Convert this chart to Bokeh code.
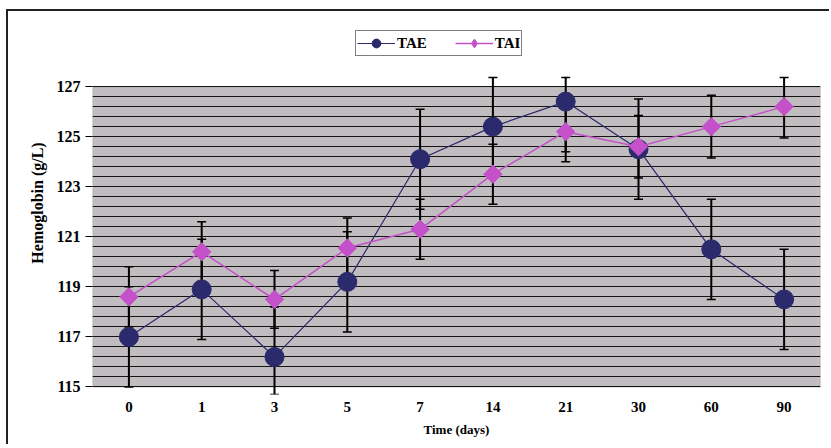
import numpy as np
from bokeh.plotting import figure
from bokeh.models import (ColumnDataSource, FactorRange, Range1d, FixedTicker,
                          BoxAnnotation, Whisker, TeeHead, Legend, LegendItem)
from bokeh.embed import file_html
from bokeh.resources import INLINE

# ---- data ----
days = ["0", "1", "3", "5", "7", "14", "21", "30", "60", "90"]
tae = [117.0, 118.9, 116.2, 119.2, 124.1, 125.4, 126.4, 124.5, 120.5, 118.5]
tae_err = [2.0, 2.0, 2.0, 2.0, 2.0, 2.0, 2.0, 2.0, 2.0, 2.0]
tai = [118.6, 120.4, 118.5, 120.55, 121.3, 123.5, 125.2, 124.6, 125.4, 126.2]
tai_err = [1.2, 1.2, 1.15, 1.2, 1.2, 1.2, 1.2, 1.25, 1.25, 1.25]
y_ticks = [115, 117, 119, 121, 123, 125, 127]

TAE_COLOR = "#2B2A6C"
TAI_COLOR = "#C451C9"
SERIF = "Liberation Serif"
BAR_CLIP = (114.7, 127.36)   # error bars are cut a little outside the plot area

def clip(v):
    return min(max(v, BAR_CLIP[0]), BAR_CLIP[1])

src = ColumnDataSource(dict(
    day=days,
    tae=tae,
    tae_lo=[clip(v - e) for v, e in zip(tae, tae_err)],
    tae_hi=[clip(v + e) for v, e in zip(tae, tae_err)],
    tai=tai,
    tai_lo=[clip(v - e) for v, e in zip(tai, tai_err)],
    tai_hi=[clip(v + e) for v, e in zip(tai, tai_err)],
))

W, H = 823, 435
p = figure(width=W, height=H, x_range=FactorRange(*days),
           y_range=Range1d(114.7, 130.0),
           output_backend="svg", toolbar_location=None,
           min_border_left=84, min_border_right=11,
           min_border_top=0, min_border_bottom=52)
p.styles = {"margin-left": "6px", "margin-top": "9px",
            "border-left": "2px solid #222222", "border-top": "2px solid #222222"}
p.background_fill_color = "white"
p.border_fill_color = "white"
p.outline_line_color = None

# plot area (gray box 115..127)
box = BoxAnnotation(bottom=y_ticks[0], top=y_ticks[-1], fill_color="#C0BCC0",
                    fill_alpha=1.0, line_color="#4A4A4A", line_width=1.2,
                    level="image")
p.add_layout(box)

# grid lines
p.xgrid.grid_line_color = None
p.ygrid.ticker = FixedTicker(ticks=list(np.round(np.arange(y_ticks[0], y_ticks[-1] + 0.01, 0.4), 2)))
p.ygrid.grid_line_color = "#151515"
p.ygrid.grid_line_width = 1.1
p.ygrid.grid_line_alpha = 1.0

# axes
p.yaxis.ticker = FixedTicker(ticks=y_ticks)
p.yaxis.axis_line_color = None
p.yaxis.major_tick_in = 0
p.yaxis.major_tick_out = 7
p.yaxis.major_tick_line_color = "black"
p.yaxis.major_tick_line_width = 1.2
p.yaxis.minor_tick_line_color = None
p.yaxis.major_label_standoff = 5
p.yaxis.major_label_text_font = SERIF
p.yaxis.major_label_text_font_style = "bold"
p.yaxis.major_label_text_font_size = "16px"
p.yaxis.major_label_text_color = "black"
p.yaxis.axis_label = "Hemoglobin (g/L)"
p.yaxis.axis_label_text_font = SERIF
p.yaxis.axis_label_text_font_style = "bold"
p.yaxis.axis_label_text_font_size = "16px"
p.yaxis.axis_label_text_color = "black"
p.yaxis.axis_label_standoff = 8

p.xaxis.axis_line_color = None
p.xaxis.major_tick_line_color = None
p.xaxis.minor_tick_line_color = None
p.xaxis.major_label_standoff = 1
p.xaxis.major_label_text_font = SERIF
p.xaxis.major_label_text_font_style = "bold"
p.xaxis.major_label_text_font_size = "15px"
p.xaxis.major_label_text_color = "black"
p.xaxis.axis_label = "Time (days)"
p.xaxis.axis_label_text_font = SERIF
p.xaxis.axis_label_text_font_style = "bold"
p.xaxis.axis_label_text_font_size = "13px"
p.xaxis.axis_label_text_color = "black"
p.xaxis.axis_label_standoff = 7

# series
l1 = p.line("day", "tae", source=src, line_color=TAE_COLOR, line_width=1.2)
r1 = p.scatter("day", "tae", source=src, marker="circle", size=19,
               fill_color=TAE_COLOR, line_color=TAE_COLOR)
l2 = p.line("day", "tai", source=src, line_color=TAI_COLOR, line_width=1.5)
# diamond used for the legend key (drawn hidden under the rotated squares)
r2_key = p.scatter("day", "tai", source=src, marker="diamond", size=12,
                   fill_color=TAI_COLOR, line_color=TAI_COLOR)
r2 = p.scatter("day", "tai", source=src, marker="square", angle=np.pi / 4, size=13,
               fill_color=TAI_COLOR, line_color=TAI_COLOR)

for lo, hi in (("tae_lo", "tae_hi"), ("tai_lo", "tai_hi")):
    w = Whisker(base="day", lower=lo, upper=hi, source=src,
                line_color="black", line_width=2,
                upper_head=TeeHead(size=9, line_color="black", line_width=1.5),
                lower_head=TeeHead(size=9, line_color="black", line_width=1.5))
    p.add_layout(w)

legend = Legend(items=[LegendItem(label="TAE", renderers=[l1, r1]),
                       LegendItem(label="TAI", renderers=[l2, r2_key])],
                orientation="horizontal", location=(263, 338),
                glyph_width=38, glyph_height=22, label_height=22,
                label_standoff=2, spacing=28, padding=1, margin=0,
                label_text_font=SERIF, label_text_font_style="bold",
                label_text_font_size="15px", label_text_color="black",
                border_line_color="black", border_line_width=1.2,
                background_fill_color="white", background_fill_alpha=1.0)
p.add_layout(legend, "center")

open("out.html", "w").write(file_html(p, INLINE))
